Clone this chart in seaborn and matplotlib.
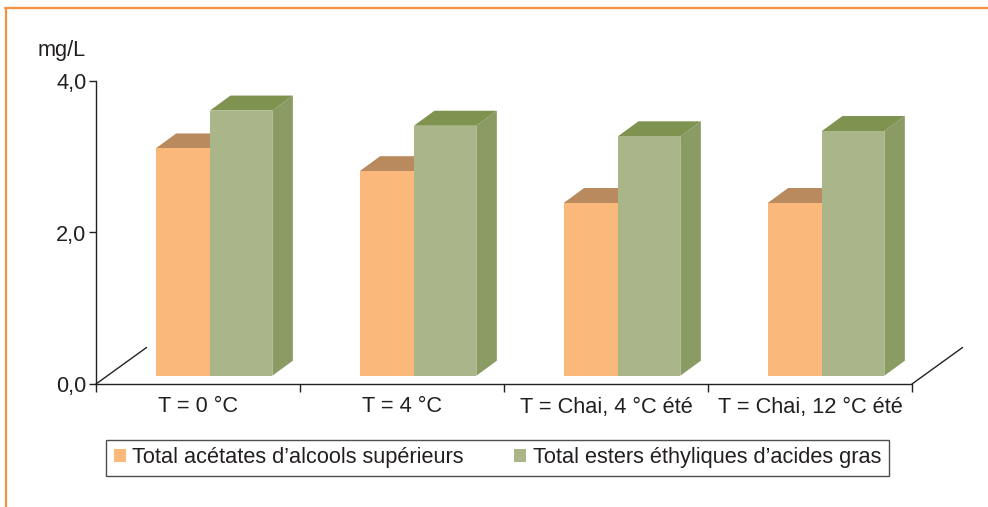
import numpy as np
import pandas as pd
import seaborn as sns
import matplotlib
matplotlib.use("Agg")
import matplotlib.pyplot as plt
import matplotlib.transforms as mtransforms
from matplotlib.patches import Polygon, Patch
from matplotlib.lines import Line2D

# ---- data -------------------------------------------------------------
conditions = ["T = 0 °C", "T = 4 °C", "T = Chai, 4 °C été", "T = Chai, 12 °C été"]
series = ["Total acétates d’alcools supérieurs",
          "Total esters éthyliques d’acides gras"]
acetates = [3.0, 2.7, 2.28, 2.28]
esters = [3.5, 3.3, 3.16, 3.23]
yticks = [0.0, 2.0, 4.0]
ytick_labels = ["0,0", "2,0", "4,0"]
unit_label = "mg/L"

df = pd.DataFrame({
    "condition": conditions * 2,
    "serie": [series[0]] * len(conditions) + [series[1]] * len(conditions),
    "value": acetates + esters,
})

# ---- style ------------------------------------------------------------
sns.set_theme(style="white")
plt.rcParams["font.family"] = ["Liberation Sans", "DejaVu Sans"]
TXT = "#231F20"
FS = 15.7
front = {"or": "#FAB97A", "gr": "#AAB689"}
top = {"or": "#B98A5E", "gr": "#7E9350"}
side = {"or": "#C99A6A", "gr": "#8A9B63"}
FRAME = "#F39245"

W, H = 988, 507
fig = plt.figure(figsize=(W / 100, H / 100), dpi=100)
ax = fig.add_axes([96 / W, (H - 384) / H, (912 - 96) / W, (384 - 81) / H])

sns.barplot(data=df, x="condition", y="value", hue="serie",
            order=conditions, hue_order=series,
            palette=[front["or"], front["gr"]], saturation=1,
            width=0.57, errorbar=None, legend=False, ax=ax)

ax.set_xlim(-0.5, len(conditions) - 0.5)
ax.set_ylim(0, 4)

# ---- pseudo 3-D bars --------------------------------------------------
# bars sit a little behind the front edge of the floor
ox, oy = 16, 8.3        # px shift of the front faces
dx, dy = 20.5, 15       # px depth of each bar
front_tr = ax.transData + mtransforms.ScaledTranslation(ox / 100, oy / 100, fig.dpi_scale_trans)
back_tr = ax.transData + mtransforms.ScaledTranslation((ox + dx) / 100, (oy + dy) / 100, fig.dpi_scale_trans)
pix = mtransforms.IdentityTransform()

w_or, w_gr = 0.266, 0.306
for key, cont, z in (("or", ax.containers[0], 2), ("gr", ax.containers[1], 3)):
    for i, p in enumerate(cont.patches):
        left = i - (w_or + w_gr) / 2
        if key == "or":
            x0, x1 = left, left + w_or
        else:
            x0, x1 = left + w_or, left + w_or + w_gr
        v = p.get_height()
        p.set_x(x0)
        p.set_width(x1 - x0)
        p.set_transform(front_tr)
        p.set_edgecolor("none")
        p.set_zorder(z)
        p.set_clip_on(False)
        f = front_tr.transform
        b = back_tr.transform
        top_face = [f((x0, v)), f((x1, v)), b((x1, v)), b((x0, v))]
        side_face = [f((x1, 0)), f((x1, v)), b((x1, v)), b((x1, 0))]
        ax.add_artist(Polygon(side_face, closed=True, transform=pix, clip_on=False,
                              facecolor=side[key], edgecolor="none", zorder=z - 0.2))
        ax.add_artist(Polygon(top_face, closed=True, transform=pix, clip_on=False,
                              facecolor=top[key], edgecolor="none", zorder=z - 0.1))

# ---- axes, floor ------------------------------------------------------
for s in ("top", "right"):
    ax.spines[s].set_visible(False)
for s in ("left", "bottom"):
    ax.spines[s].set_color("#222222")
    ax.spines[s].set_linewidth(1.0)
    ax.spines[s].set_zorder(5)

ax.set_yticks(yticks)
ax.set_yticklabels(ytick_labels, fontsize=FS, color=TXT)
ax.tick_params(axis="y", left=True, length=5, width=1, color="#222222", pad=2)
ax.set_xticks(range(len(conditions)))
ax.set_xticklabels(conditions, fontsize=FS, color=TXT)
ax.set_xticks(np.arange(-0.5, len(conditions)), minor=True)
ax.tick_params(axis="x", which="major", bottom=False, length=0, pad=9)
ax.tick_params(axis="x", which="minor", bottom=True, length=6, width=1, color="#222222")
ax.set_xlabel("")
ax.set_ylabel("")
ax.grid(False)

floor_dx, floor_dy = 50.5, 36.5
for xc in (-0.5, len(conditions) - 0.5):
    x0, y0 = ax.transData.transform((xc, 0))
    ax.add_artist(Line2D([x0, x0 + floor_dx], [y0, y0 + floor_dy], transform=pix,
                         clip_on=False, color="#222222", lw=1.0, zorder=1))

fig.text(38 / W, 1 - 50 / H, unit_label, fontsize=FS, color=TXT, ha="left", va="center")

# ---- legend -----------------------------------------------------------
handles = [Patch(facecolor=front["or"], edgecolor="none"),
           Patch(facecolor=front["gr"], edgecolor="none")]
leg = fig.legend(handles, series, ncol=2, loc="center",
                 bbox_to_anchor=((107 + 888) / 2 / W, 1 - 458 / H),
                 fontsize=FS, frameon=True, fancybox=False,
                 handlelength=0.55, handleheight=0.55, handletextpad=0.32,
                 columnspacing=2.3, borderpad=0.35, borderaxespad=0)
leg.get_frame().set_edgecolor("#222222")
leg.get_frame().set_linewidth(1.0)
for t in leg.get_texts():
    t.set_color(TXT)

# ---- outer frame ------------------------------------------------------
fig.add_artist(Line2D([5 / W, 1], [1 - 8 / H, 1 - 8 / H], color=FRAME, lw=1.6))
fig.add_artist(Line2D([6 / W, 6 / W], [0, 1 - 8 / H], color=FRAME, lw=1.6))

fig.savefig("out.png", dpi=100, facecolor="white")
